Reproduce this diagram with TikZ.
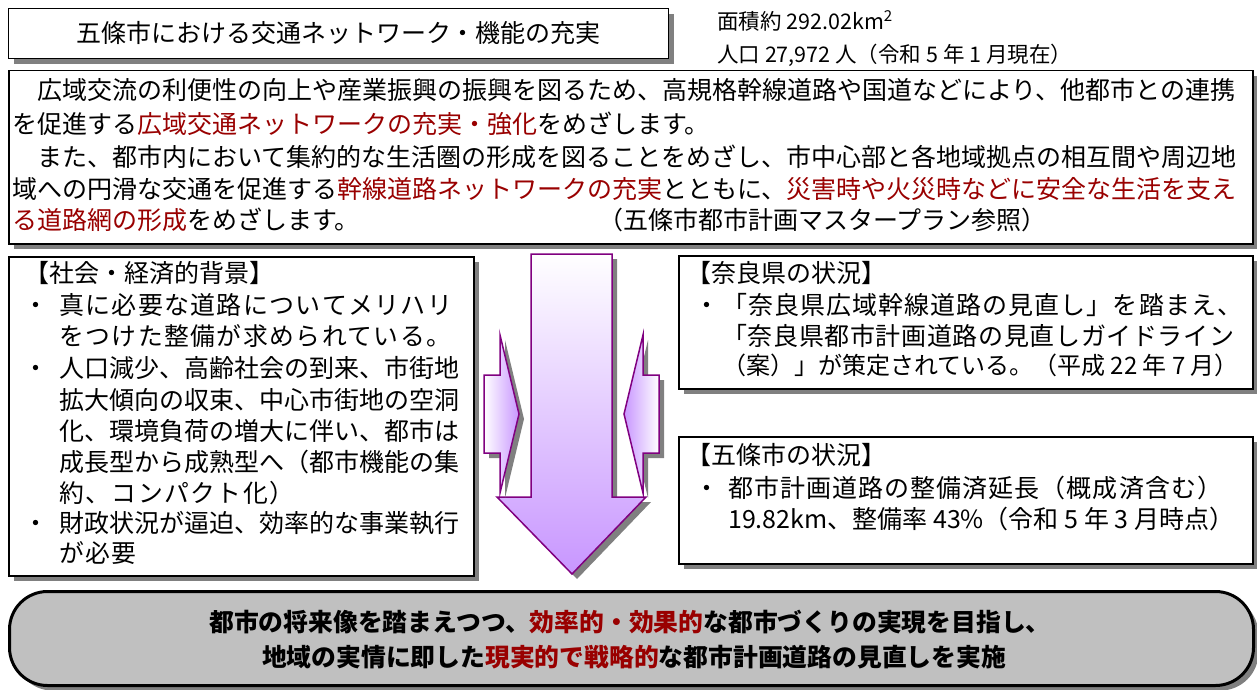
\documentclass[tikz,border=0pt]{standalone}
\usepackage{fontspec}
\setmainfont{Noto Sans CJK JP}
\newfontfamily\jpls[LetterSpace=6]{Noto Sans CJK JP}
\usetikzlibrary{shadows}
\definecolor{dred}{HTML}{990000}
\definecolor{arrpurple}{HTML}{800080}
\definecolor{lav}{HTML}{C896FF}
\definecolor{shadowgray}{HTML}{808080}
\definecolor{boxgray}{HTML}{C0C0C0}
\makeatletter
\def\jstend{\jstend}
\newcommand\jst[2]{\makebox[#1][s]{\jst@loop#2\jstend}}
\def\jst@loop#1#2{#1\ifx\jstend#2\expandafter\@gobble\else\hfil\expandafter\jst@loop\fi#2}
\makeatother
\begin{document}
\begin{tikzpicture}[x=1pt,y=-1pt,
 shd/.style={drop shadow={shadow xshift=5pt,shadow yshift=-5pt,fill=shadowgray,opacity=1}},
 panel/.style={draw=black,line width=1.5pt,fill=white,shd,inner sep=0pt,anchor=north west},
 txt/.style={inner sep=0pt,anchor=west,text height=21.5pt,text depth=3.5pt,font=\fontsize{25pt}{30pt}\selectfont},
 lstxt/.style={txt,font=\jpls\fontsize{24.8pt}{30pt}\selectfont},
 smalltxt/.style={inner sep=0pt,anchor=west,text height=18pt,text depth=3pt,font=\fontsize{21.5pt}{26pt}\selectfont},
 goaltxt/.style={inner sep=0pt,anchor=center,text height=21.5pt,text depth=3.5pt,font=\bfseries\fontsize{24.8pt}{30pt}\selectfont},
 arrowshape/.style={draw=arrpurple,line width=1.5pt,shd},
]
\useasboundingbox (0,0) rectangle (1257,690);

% title
\node[panel,line width=1.2pt,minimum width=660pt,minimum height=50pt] (titlebox) at (8,8) {};
\node[txt,anchor=center] (title) at (titlebox.center) {五條市における交通ネットワーク・機能の充実};

% area info
\node[smalltxt] (area) at (717,22) {面積約 292.02km\textsuperscript{2}};
\node[smalltxt] (pop) at (717,55) {人口 27,972 人（令和 5 年 1 月現在）};

% main box
\node[panel,minimum width=1244pt,minimum height=173pt] (mainbox) at (8,70) {};
\node[txt] (m1) at (12,91) {　広域交流の利便性の向上や産業振興の振興を図るため、高規格幹線道路や国道などにより、他都市との連携};
\node[txt] (m2) at (12,124) {を促進する\textcolor{dred}{広域交通ネットワークの充実・強化}をめざします。};
\node[txt] (m3) at (12,157) {　また、都市内において集約的な生活圏の形成を図ることをめざし、市中心部と各地域拠点の相互間や周辺地};
\node[txt] (m4) at (12,189) {域への円滑な交通を促進する\textcolor{dred}{幹線道路ネットワークの充実}とともに、\textcolor{dred}{災害時や火災時などに安全な生活を支え}};
\node[txt] (m5) at (12,220) {\textcolor{dred}{る道路網の形成}をめざします。};
\node[txt] (m6) at (598,220) {（五條市都市計画マスタープラン参照）};

% left box
\node[panel,minimum width=465pt,minimum height=319pt] (leftbox) at (8,256) {};
\node[txt] (lh) at (24,273) {【社会・経済的背景】};
\node[txt] (lb1) at (23,305) {・};
\node[txt] (l1) at (59,305) {\jst{393pt}{真に必要な道路についてメリハリ}};
\node[lstxt] (l2) at (59,336) {をつけた整備が求められている。};
\node[txt] (lb2) at (23,368) {・};
\node[txt] (l3) at (59,368) {\jst{393pt}{人口減少、高齢社会の到来、市街地}};
\node[txt] (l4) at (59,400) {\jst{393pt}{拡大傾向の収束、中心市街地の空洞}};
\node[txt] (l5) at (59,431) {\jst{393pt}{化、環境負荷の増大に伴い、都市は}};
\node[txt] (l6) at (59,462) {\jst{393pt}{成長型から成熟型へ（都市機能の集}};
\node[lstxt] (l7) at (59,493) {約、コンパクト化）};
\node[txt] (lb3) at (23,523) {・};
\node[txt] (l8) at (59,523) {\jst{393pt}{財政状況が逼迫、効率的な事業執行}};
\node[lstxt] (l9) at (59,553) {が必要};

% right upper box
\node[panel,minimum width=574pt,minimum height=133pt] (nara) at (678,255) {};
\node[txt] (nh) at (686,273) {【奈良県の状況】};
\node[txt] (nb) at (694,305) {・};
\node[txt] (n1) at (722,305) {\jst{520pt}{「奈良県広域幹線道路の見直し」を踏まえ、}};
\node[txt] (n2) at (722,336) {\jst{512pt}{「奈良県都市計画道路の見直しガイドライン}};
\node[txt,font=\fontsize{24pt}{30pt}\selectfont] (n3) at (722,365) {（案）」が策定されている。（平成 22 年 7 月）};

% right lower box
\node[panel,minimum width=574pt,minimum height=127pt] (gojo) at (678,436) {};
\node[txt] (gh) at (686,455) {【五條市の状況】};
\node[txt] (gb) at (694,488) {・};
\node[txt] (g1) at (728,488) {\jst{494pt}{都市計画道路の整備済延長（概成済含む）}};
\node[txt] (g2) at (728,519) {19.82km、整備率 43\%（令和 5 年 3 月時点）};

% arrows
\draw[arrowshape,top color=white,bottom color=lav]
  (531,254) -- (612,254) -- (612,497) -- (646,497) -- (572,574) -- (497,497) -- (531,497) -- cycle;
\draw[arrowshape,left color=white,right color=lav]
  (484,375) -- (500,375) -- (500,335) -- (519,414) -- (500,493) -- (500,453) -- (484,453) -- cycle;
\draw[arrowshape,left color=lav,right color=white]
  (659,375) -- (643,375) -- (643,335) -- (624,414) -- (643,493) -- (643,453) -- (659,453) -- cycle;

% goal box
\node[panel,rounded corners=38pt,fill=boxgray,line width=3pt,minimum width=1244pt,minimum height=94pt] (goal) at (8,590) {};
\node[goaltxt] (goal1) at (630,622) {都市の将来像を踏まえつつ、\textcolor{dred}{効率的・効果的}な都市づくりの実現を目指し、};
\node[goaltxt] (goal2) at (634,657) {地域の実情に即した\textcolor{dred}{現実的で戦略的}な都市計画道路の見直しを実施};
\end{tikzpicture}
\end{document}
